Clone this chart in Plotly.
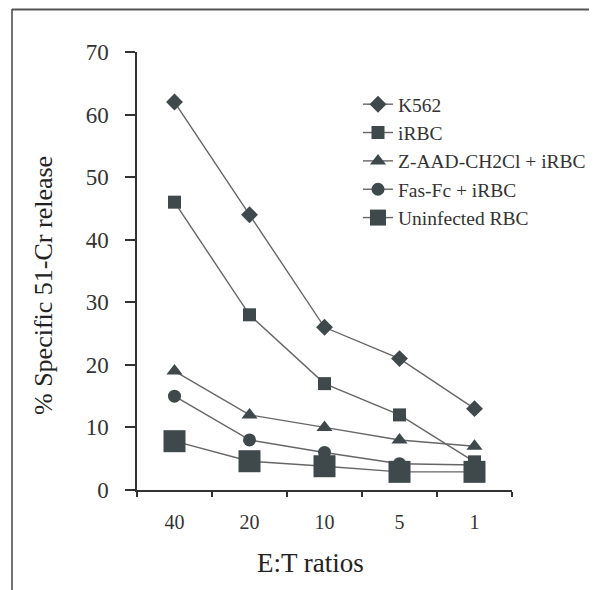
import plotly.graph_objects as go

categories = ["40", "20", "10", "5", "1"]
k562 = [62, 44, 26, 21, 13]
irbc = [46, 28, 17, 12, 4.5]
zaad = [19, 12, 10, 8, 7]
fasfc = [15, 8, 6, 4.2, 4]
uninf = [7.8, 4.6, 3.8, 2.9, 2.9]

series_names = ["K562", "iRBC", "Z-AAD-CH2Cl + iRBC", "Fas-Fc + iRBC", "Uninfected RBC"]
series_values = [k562, irbc, zaad, fasfc, uninf]
symbols = ["diamond", "square", "triangle-up", "circle", "square"]
sizes = [13, 13, 14, 13, 22]

x_title = "E:T ratios"
y_title = "% Specific 51-Cr release"

MARK = "#3f494b"
LINE = "#666666"
FONT = "Liberation Serif"

OFF = 8  # page body margin
W, H = 597 - OFF, 590 - OFF
L, T = 137 - OFF, 52 - OFF
pw, ph = 375, 438
R, B = W - L - pw, H - T - ph

fig = go.Figure()
for i, (name, vals) in enumerate(zip(series_names, series_values)):
    fig.add_trace(go.Scatter(
        x=categories, y=vals, name=name, mode="lines+markers",
        line=dict(color=LINE, width=1.4),
        marker=dict(symbol=symbols[i], size=sizes[i], color=MARK),
        legendgroup=f"g{i}",
    ))

def px_x(x):
    # x in reference-screen pixels
    return (x - OFF - L) / pw

def px_y(y):
    return (T + ph - (y - OFF)) / ph

# outer frame
fig.add_shape(type="line", xref="paper", yref="paper",
              x0=px_x(12), x1=px_x(620), y0=px_y(9.5), y1=px_y(9.5),
              line=dict(color="#555555", width=2))
fig.add_shape(type="line", xref="paper", yref="paper",
              x0=px_x(12), x1=px_x(12), y0=px_y(9), y1=px_y(620),
              line=dict(color="#444444", width=1.5))

# axis titles
fig.add_annotation(text=x_title, xref="paper", yref="paper",
                   x=px_x(310), y=px_y(563), xanchor="center", yanchor="middle",
                   showarrow=False, font=dict(family=FONT, size=27, color="#222222"))
fig.add_annotation(text=y_title, xref="paper", yref="paper", textangle=-90,
                   x=px_x(43), y=px_y(286), xanchor="center", yanchor="middle",
                   showarrow=False, font=dict(family=FONT, size=26, color="#222222"))

fig.update_layout(
    width=W, height=H,
    margin=dict(l=L, r=R, t=T, b=B, autoexpand=False),
    paper_bgcolor="white", plot_bgcolor="white",
    font=dict(family=FONT, color="#333333"),
    showlegend=True,
    legend=dict(
        x=px_x(358), y=px_y(85), xanchor="left", yanchor="top",
        font=dict(family=FONT, size=19.5, color="#333333"),
        bgcolor="rgba(0,0,0,0)", tracegroupgap=0,
        itemsizing="trace",
    ),
    xaxis=dict(
        type="category", range=[-0.5, 4.5],
        showline=True, linecolor="#333333", linewidth=1.5,
        ticks="outside", ticklen=5, tickwidth=1.5, tickcolor="#333333",
        tickson="boundaries", showgrid=False, zeroline=False,
        tickfont=dict(family=FONT, size=20, color="#333333"),
        ticklabelstandoff=13,
    ),
    yaxis=dict(
        range=[0, 70], tickvals=[0, 10, 20, 30, 40, 50, 60, 70],
        showline=True, linecolor="#333333", linewidth=1.5,
        ticks="outside", ticklen=10, tickwidth=1.5, tickcolor="#333333",
        showgrid=False, zeroline=False,
        tickfont=dict(family=FONT, size=23, color="#333333"),
        ticklabelstandoff=12,
    ),
)

fig.write_html("out.html")
